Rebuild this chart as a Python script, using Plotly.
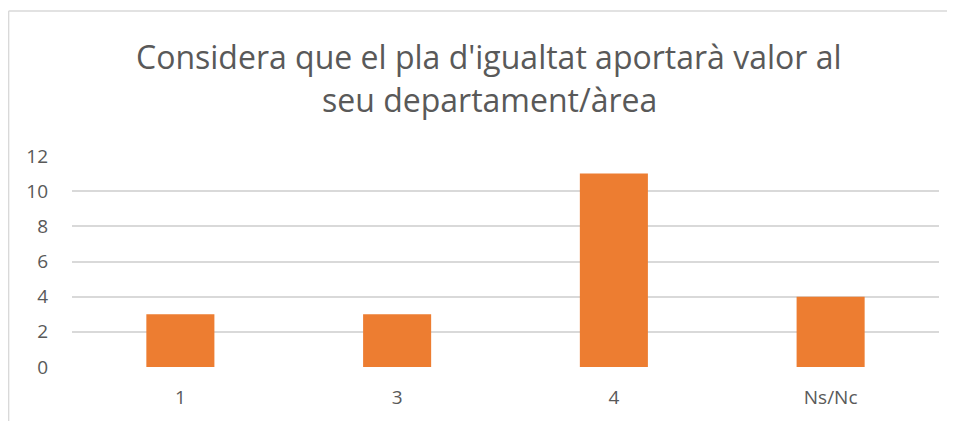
import plotly.graph_objects as go

categories = ["1", "3", "4", "Ns/Nc"]
values = [3, 3, 11, 4]
title_lines = ["Considera que el pla d'igualtat aportarà valor al", "seu departament/àrea"]
y_ticks = [0, 2, 4, 6, 8, 10, 12]

# page has an 8px body margin, so figure coords = screenshot coords - 8
OFF = 8
W, H = 955 - OFF, 421 - OFF
L, R, T, B = 64, 16, 148, 54
pw, ph = W - L - R, H - T - B

def px_x(x):
    return (x - OFF - L) / pw

def px_y(y):
    return (H - B - (y - OFF)) / ph

fig = go.Figure(go.Bar(
    x=categories, y=values, marker_color="#ED7D31", width=0.314,
    marker_line_width=0,
))

font = "Open Sans, Liberation Sans, sans-serif"
fig.update_layout(
    width=W, height=H, margin=dict(l=L, r=R, t=T, b=B),
    paper_bgcolor="white", plot_bgcolor="white", showlegend=False,
    font=dict(family=font, color="#595959", size=19),
    xaxis=dict(showgrid=False, showline=False, ticks="", ticklabelstandoff=17,
               tickfont=dict(size=19, color="#595959")),
    yaxis=dict(range=[0, 12], tickvals=y_ticks, showgrid=True, gridcolor="#d9d9d9", gridwidth=1.5,
               zeroline=False, showline=False, ticks="", ticklabelstandoff=23,
               tickfont=dict(size=19, color="#595959")),
)
for line, ypx in zip(title_lines, [56, 100]):
    fig.add_annotation(text=line, xref="paper", yref="paper", x=px_x(489), y=px_y(ypx),
                       xanchor="center", yanchor="middle", showarrow=False,
                       font=dict(size=32, color="#595959", family=font))
fig.add_shape(type="line", xref="paper", yref="paper", x0=px_x(8.6), x1=px_x(8.6),
              y0=px_y(11), y1=px_y(430), line=dict(color="#d9d9d9", width=1.5))
fig.add_shape(type="line", xref="paper", yref="paper", x0=px_x(8.6), x1=px_x(960),
              y0=px_y(11), y1=px_y(11), line=dict(color="#d9d9d9", width=1.5))
fig.write_html("out.html")
